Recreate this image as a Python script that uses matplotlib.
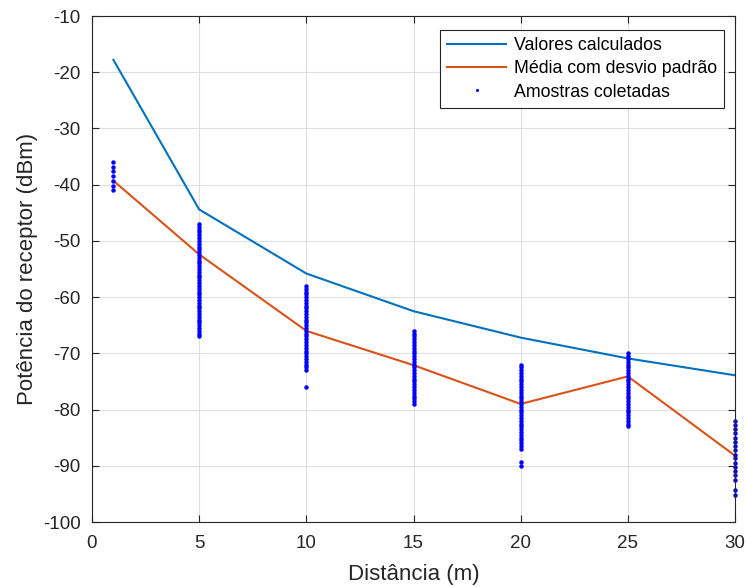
import matplotlib.pyplot as plt

plt.rcParams['font.family'] = ['Liberation Sans', 'DejaVu Sans']
plt.rcParams['axes.unicode_minus'] = False

# distances (m)
distancias = [1, 5, 10, 15, 20, 25, 30]

# calculated values (dBm)
valores_calculados = [-17.8, -44.4, -55.8, -62.5, -67.2, -70.9, -73.9]

# mean of measured samples (dBm)
media = [-39.3, -52.4, -66.0, -72.1, -79.0, -74.1, -88.2]

# collected samples per distance (dBm)
amostras_1 = [-36.0, -36.8, -37.6, -38.4, -39.4, -40.2, -41.0]
amostras_5 = [-47.0, -47.5, -48.0, -48.5, -49.0, -49.5, -50.0, -50.5, -51.0, -51.5,
              -52.0, -52.5, -53.0, -53.5, -54.0, -54.5, -55.0, -55.5, -56.0, -56.5,
              -57.0, -57.5, -58.0, -58.5, -59.0, -59.5, -60.0, -60.5, -61.0, -61.5,
              -62.0, -62.5, -63.0, -63.5, -64.0, -64.5, -65.0, -65.5, -66.0, -66.5,
              -67.0]
amostras_10 = [-58.0, -58.5, -59.0, -59.5, -60.0, -60.5, -61.0, -61.5, -62.0, -62.5,
               -63.0, -63.5, -64.0, -64.5, -65.0, -65.5, -66.0, -66.5, -67.0, -67.5,
               -68.0, -68.5, -69.0, -69.5, -70.0, -70.5, -71.0, -71.5, -72.0, -72.5,
               -73.0, -76.0]
amostras_15 = [-66.0, -66.5, -67.0, -67.5, -68.0, -68.5, -69.0, -69.5, -70.0, -70.5,
               -71.0, -71.5, -72.0, -72.5, -73.0, -73.5, -74.0, -74.5, -75.0, -75.5,
               -76.0, -76.5, -77.0, -77.5, -78.0, -78.5, -79.0]
amostras_20 = [-72.0, -72.5, -73.0, -73.5, -74.0, -74.5, -75.0, -75.5, -76.0, -76.5,
               -77.0, -77.5, -78.0, -78.5, -79.0, -79.5, -80.0, -80.5, -81.0, -81.5,
               -82.0, -82.5, -83.0, -83.5, -84.0, -84.5, -85.0, -85.5, -86.0, -86.5,
               -87.0, -89.3, -90.1]
amostras_25 = [-70.0, -70.5, -71.0, -71.5, -72.0, -72.5, -73.0, -73.5, -74.0, -74.5,
               -75.0, -75.5, -76.0, -76.5, -77.0, -77.5, -78.0, -78.5, -79.0, -79.5,
               -80.0, -80.5, -81.0, -81.5, -82.0, -82.5, -83.0]
amostras_30 = [-82.0, -82.7, -83.5, -84.2, -85.0, -85.7, -86.5, -87.2, -88.0, -88.7,
               -89.5, -90.2, -91.0, -91.7, -92.5, -94.3, -95.2]

amostras = [amostras_1, amostras_5, amostras_10, amostras_15,
            amostras_20, amostras_25, amostras_30]

fig = plt.figure(figsize=(7.46, 5.87), dpi=100)
ax = fig.add_axes([0.1233, 0.1107, 0.8620, 0.8620])

ax.plot(distancias, valores_calculados, color='#0072BD', linewidth=1.5,
        label='Valores calculados')
ax.plot(distancias, media, color='#D95319', linewidth=1.5,
        label='Média com desvio padrão')

x_amostras = []
y_amostras = []
for d, vals in zip(distancias, amostras):
    x_amostras += [d] * len(vals)
    y_amostras += vals
ax.plot(x_amostras, y_amostras, linestyle='none', marker='o', markersize=3.2,
        markeredgewidth=0, color='blue', label='Amostras coletadas', clip_on=False)

ax.set_xlim(0, 30)
ax.set_ylim(-100, -10)
ax.set_xticks([0, 5, 10, 15, 20, 25, 30])
ax.set_yticks(range(-100, 0, 10))
ax.grid(True, color='#DFDFDF', linewidth=0.8)
ax.set_axisbelow(True)

for s in ax.spines.values():
    s.set_color('#262626')
    s.set_linewidth(0.8)
ax.tick_params(direction='in', top=True, right=True, length=5, width=0.8,
               colors='#262626', labelsize=13.5)
ax.tick_params(axis='x', pad=9)
ax.tick_params(axis='y', pad=8)

ax.set_xlabel('Distância (m)', fontsize=16, color='#262626', labelpad=9)
ax.set_ylabel('Potência do receptor (dBm)', fontsize=16, color='#262626', labelpad=4)

leg = ax.legend(loc='upper right', fontsize=12.8, frameon=True, fancybox=False,
                edgecolor='#262626', framealpha=1, handlelength=3.3,
                handletextpad=0.45, markerscale=0.7,
                numpoints=1, labelspacing=0.35, borderpad=0.4,
                bbox_to_anchor=(0.997, 0.99))
leg.get_frame().set_linewidth(0.8)

fig.savefig('out.png', dpi=100)
